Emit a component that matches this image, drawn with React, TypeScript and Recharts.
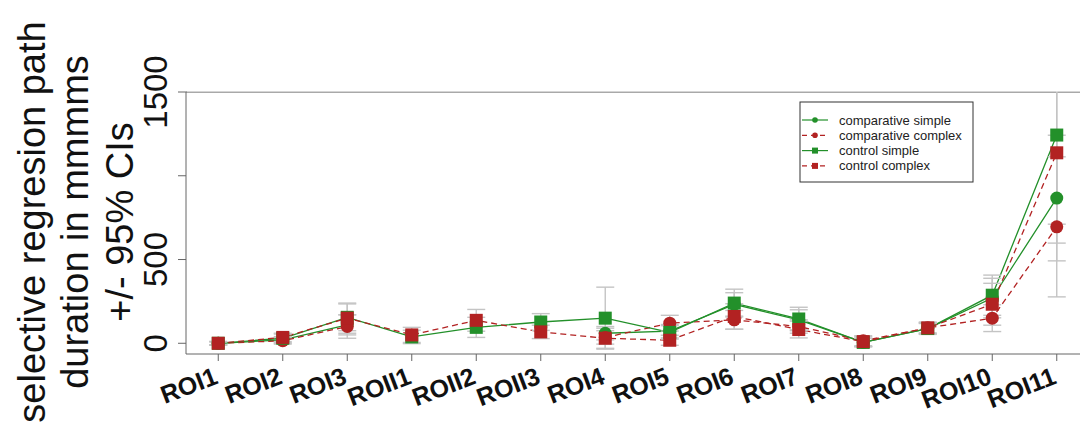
import { ErrorBar, Line, LineChart, ReferenceLine, XAxis, YAxis } from "recharts";

const categories = [
  "ROI1", "ROI2", "ROI3", "ROII1", "ROII2", "ROII3", "ROI4",
  "ROI5", "ROI6", "ROI7", "ROI8", "ROI9", "ROI10", "ROI11",
];

// means (ms); comparative conditions have no ROII values
const comparativeSimple = [0, 20, 110, null, null, null, 60, 72, 232, 140, 5, 88, 270, 867];
const comparativeComplex = [0, 15, 100, null, null, null, 35, 120, 140, 100, 15, 92, 150, 695];
const controlSimple = [0, 30, 155, 38, 95, 127, 150, 65, 240, 145, 5, 88, 287, 1243];
const controlComplex = [0, 35, 150, 50, 137, 68, 30, 18, 160, 82, 10, 92, 233, 1137];

// 95% CI half widths
const comparativeSimpleCI = [10, 20, 60, null, null, null, 40, 40, 70, 60, 25, 30, 118, 375];
const comparativeComplexCI = [10, 20, 70, null, null, null, 40, 47, 56, 40, 30, 30, 80, 418];
const controlSimpleCI = [10, 25, 80, 40, 60, 50, 185, 40, 83, 70, 25, 35, 120, 645];
const controlComplexCI = [10, 25, 90, 45, 65, 40, 60, 30, 76, 50, 30, 35, 125, 426];

const yTicks = [0, 500, 1000, 1500];
const yTickLabels = ["0", "500", "", "1500"];

const GREEN = "#23902a";
const RED = "#b22222";
const FONT = "'Liberation Sans', Arial, sans-serif";

const series = [
  { key: "compSimple", name: "comparative simple", color: GREEN, dashed: false, shape: "circle" },
  { key: "compComplex", name: "comparative complex", color: RED, dashed: true, shape: "circle" },
  { key: "ctrlSimple", name: "control simple", color: GREEN, dashed: false, shape: "square" },
  { key: "ctrlComplex", name: "control complex", color: RED, dashed: true, shape: "square" },
];

const data = categories.map((name, i) => ({
  idx: i + 1,
  name,
  compSimple: comparativeSimple[i],
  compComplex: comparativeComplex[i],
  ctrlSimple: controlSimple[i],
  ctrlComplex: controlComplex[i],
  compSimpleCI: comparativeSimpleCI[i],
  compComplexCI: comparativeComplexCI[i],
  ctrlSimpleCI: controlSimpleCI[i],
  ctrlComplexCI: controlComplexCI[i],
}));

function squareDot(color: string) {
  return (props: any) => {
    const { cx, cy, index } = props;
    if (cx == null || cy == null || Number.isNaN(cy)) return <g key={index} />;
    return <rect key={index} x={cx - 6.5} y={cy - 6.5} width={13} height={13} fill={color} />;
  };
}

function RoiTick(props: any) {
  const { x, y, payload } = props;
  const ax = x + 1;
  const ay = y + 22;
  return (
    <text
      x={ax}
      y={ay}
      transform={`rotate(-21, ${ax}, ${ay})`}
      textAnchor="end"
      fontSize={25}
      fontWeight="bold"
      fontFamily={FONT}
      fill="#111"
    >
      {categories[payload.value - 1]}
    </text>
  );
}

function ValueTick(props: any) {
  const { y, payload } = props;
  const label = yTickLabels[yTicks.indexOf(payload.value)];
  return (
    <text
      x={167}
      y={y}
      transform={`rotate(-90, 167, ${y})`}
      textAnchor="middle"
      fontSize={33}
      fontFamily={FONT}
      fill="#111"
    >
      {label}
    </text>
  );
}

function Overlay() {
  const titleLines = [
    { x: 45, text: "selective regresion path" },
    { x: 88, text: "duration in mmmms" },
    { x: 133, text: "+/- 95% CIs" },
  ];
  return (
    <svg
      width={1080}
      height={432}
      style={{ position: "absolute", left: 0, top: 0, pointerEvents: "none" }}
    >
      {/* hide CI whiskers that run past the top of the plot box */}
      <rect x={187} y={0} width={893} height={91.5} fill="#fff" />
      {titleLines.map((l) => (
        <text
          key={l.text}
          x={l.x}
          y={222}
          transform={`rotate(-90, ${l.x}, 222)`}
          textAnchor="middle"
          fontSize={38}
          fontFamily={FONT}
          fill="#111"
        >
          {l.text}
        </text>
      ))}
      <g transform="translate(800, 102)">
        <rect x={0} y={0} width={173} height={80} fill="#fff" stroke="#333" strokeWidth={1} />
        {series.map((s, i) => {
          const cy = 18 + i * 15.3;
          return (
            <g key={s.key}>
              <line
                x1={2}
                x2={28}
                y1={cy}
                y2={cy}
                stroke={s.color}
                strokeWidth={1.2}
                strokeDasharray={s.dashed ? "5 4" : undefined}
              />
              {s.shape === "circle" ? (
                <circle cx={15} cy={cy} r={2.8} fill={s.color} />
              ) : (
                <rect x={12} y={cy - 3} width={6} height={6} fill={s.color} />
              )}
              <text x={39} y={cy + 4.5} fontSize={13} fontFamily={FONT} fill="#222">
                {s.name}
              </text>
            </g>
          );
        })}
      </g>
    </svg>
  );
}

export default function App() {
  return (
    <div
      style={{
        position: "fixed",
        left: 0,
        top: 0,
        width: 1080,
        height: 432,
        overflow: "hidden",
        background: "#fff",
      }}
    >
      <LineChart
        width={1100}
        height={432}
        data={data}
        margin={{ top: 92, right: 11, bottom: 18, left: 126 }}
      >
        <XAxis
          dataKey="idx"
          type="number"
          domain={[0.5, 14.5]}
          ticks={categories.map((_, i) => i + 1)}
          interval={0}
          height={60}
          tickSize={7}
          tickMargin={0}
          stroke="#666"
          tick={<RoiTick />}
          allowDataOverflow
        />
        <YAxis
          type="number"
          domain={[-64, 1500]}
          ticks={yTicks}
          width={60}
          tickSize={8}
          stroke="#666"
          tick={<ValueTick />}
          allowDataOverflow
        />
        <ReferenceLine y={1500} stroke="#555" strokeWidth={1} />
        {series.map((s) => (
          <Line
            key={s.key}
            dataKey={s.key}
            stroke={s.color}
            strokeWidth={1.3}
            strokeDasharray={s.dashed ? "6 4" : undefined}
            dot={s.shape === "circle" ? { r: 6.5, fill: s.color, stroke: s.color, strokeWidth: 0 } : squareDot(s.color)}
            activeDot={false}
            isAnimationActive={false}
          />
        ))}
        {series.map((s) => (
          <Line
            key={s.key + "-ci"}
            dataKey={s.key}
            stroke="none"
            dot={false}
            activeDot={false}
            legendType="none"
            isAnimationActive={false}
          >
            <ErrorBar dataKey={s.key + "CI"} width={9} stroke="#c4c4c4" strokeWidth={1.4} direction="y" />
          </Line>
        ))}
      </LineChart>
      <Overlay />
    </div>
  );
}
